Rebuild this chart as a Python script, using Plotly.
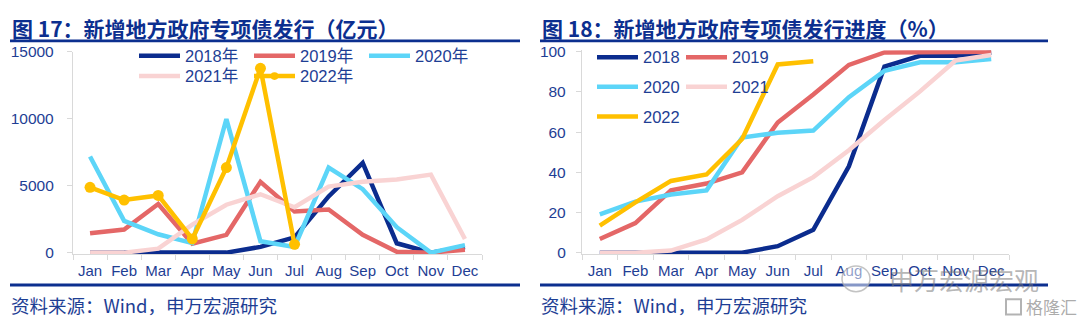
import plotly.graph_objects as go

# ---------------- data ----------------
months = ["Jan", "Feb", "Mar", "Apr", "May", "Jun", "Jul", "Aug", "Sep", "Oct", "Nov", "Dec"]

issue_2018 = [0, 0, 0, 0, 0, 430, 1140, 4200, 6700, 700, 0, 420]
issue_2019 = [1450, 1730, 3630, 660, 1330, 5290, 3080, 3220, 1330, 70, 0, 220]
issue_2020 = [7180, 2370, 1370, 710, 9980, 850, 430, 6350, 4740, 1900, 0, 560]
issue_2021 = [0, 0, 300, 2090, 3580, 4360, 3390, 4930, 5290, 5470, 5830, 1020]
issue_2022 = [4880, 3930, 4270, 1020, 6350, 13770, 620]

prog_2018 = [0, 0, 0, 0, 0, 3.2, 11.4, 43, 92.6, 98, 98, 99.5]
prog_2019 = [6.8, 14.7, 31, 34.4, 40, 64.8, 78.7, 93.5, 99.7, 99.7, 99.7, 100]
prog_2020 = [19.1, 25.4, 28.9, 31, 57.3, 59.7, 60.8, 77.4, 90.5, 94.8, 94.8, 96.4]
prog_2021 = [0, 0, 1, 6.6, 16.3, 28.1, 37.6, 51, 66, 80.3, 95.7, 98.4]
prog_2022 = [13.4, 25, 35.7, 38.9, 56.6, 93.7, 95.3]

left_names = ["2018年", "2019年", "2020年", "2021年", "2022年"]
right_names = ["2018", "2019", "2020", "2021", "2022"]
left_ticks = [0, 5000, 10000, 15000]
right_ticks = [0, 20, 40, 60, 80, 100]

title_left = "图 17：新增地方政府专项债发行（亿元）"
title_right = "图 18：新增地方政府专项债发行进度（%）"
source_text = "资料来源：Wind，申万宏源研究"

# ---------------- styles ----------------
colors = ["#0B2C8E", "#E46767", "#5CD5F8", "#F9D3D3", "#FFC000"]
NAVY = "#0C2F8F"
TXT = "#1E3E94"
GRID = "#D9D9D9"
W, H = 1080, 331
LW = 4.5

def px_x(p):
    return p / W

def px_y(p):
    return 1 - p / H

fig = go.Figure()

left_series = [issue_2018, issue_2019, issue_2020, issue_2021, issue_2022]
right_series = [prog_2018, prog_2019, prog_2020, prog_2021, prog_2022]

for i, (name, ys) in enumerate(zip(left_names, left_series)):
    is22 = i == 4
    fig.add_trace(go.Scatter(
        x=months[:len(ys)], y=ys, name=name, xaxis="x", yaxis="y",
        mode="lines+markers" if is22 else "lines",
        line=dict(color=colors[i], width=LW),
        marker=dict(size=11, color=colors[i]) if is22 else None,
        showlegend=False, cliponaxis=False,
    ))

for i, (name, ys) in enumerate(zip(right_names, right_series)):
    fig.add_trace(go.Scatter(
        x=months[:len(ys)], y=ys, name=name, xaxis="x2", yaxis="y2",
        mode="lines", line=dict(color=colors[i], width=LW),
        showlegend=False,
    ))

axis_common = dict(showgrid=False, zeroline=False, showline=True, linecolor=GRID,
                   linewidth=1.3, ticks="outside", ticklen=5, tickcolor=GRID,
                   tickwidth=1.3, fixedrange=True)
xfont = dict(family="Liberation Sans, Arial, sans-serif", size=15, color=TXT)
yfont = dict(family="Liberation Sans, Arial, sans-serif", size=15.5, color=TXT)

fig.update_layout(
    width=W, height=H, autosize=False,
    margin=dict(l=0, r=0, t=0, b=0),
    paper_bgcolor="white", plot_bgcolor="white",
    showlegend=False,
    xaxis=dict(domain=[px_x(73), px_x(482)], anchor="y", type="category",
               categoryorder="array", categoryarray=months, range=[-0.5, 11.5],
               tickson="boundaries", tickangle=0, tickfont=xfont, ticklabelstandoff=3,
               **axis_common),
    yaxis=dict(domain=[px_y(257.55), px_y(45)], anchor="x", range=[-110, 15000],
               tickvals=left_ticks, ticktext=[str(v) for v in left_ticks],
               tickfont=yfont, ticklabelstandoff=10, **axis_common),
    xaxis2=dict(domain=[px_x(582), px_x(1009)], anchor="y2", type="category",
                categoryorder="array", categoryarray=months, range=[-0.5, 11.5],
                tickson="boundaries", tickangle=0, tickfont=xfont, ticklabelstandoff=3,
                **axis_common),
    yaxis2=dict(domain=[px_y(257.48), px_y(43.31)], anchor="x2", range=[-0.7, 100.8],
                tickvals=right_ticks, ticktext=[str(v) for v in right_ticks],
                tickfont=yfont, ticklabelstandoff=7, **axis_common),
)

shapes = []
annotations = []

for x0, x1, title in [(10, 520, title_left), (540, 1048, title_right)]:
    annotations.append(dict(x=px_x(x0), y=px_y(19.5), xref="paper", yref="paper",
                            xanchor="left", yanchor="middle", showarrow=False,
                            text=title,
                            font=dict(family="Noto Sans CJK SC", size=21, color=NAVY,
                                      weight="bold")))
    for yy in (33.5, 290):
        shapes.append(dict(type="line", xref="paper", yref="paper",
                           x0=px_x(x0), x1=px_x(x1), y0=px_y(yy), y1=px_y(yy),
                           line=dict(color=NAVY, width=2.8)))
    annotations.append(dict(x=px_x(x0 - 1), y=px_y(311), xref="paper", yref="paper",
                            xanchor="left", yanchor="middle", showarrow=False,
                            text=source_text,
                            font=dict(family="Noto Sans CJK SC", size=18.5, color=TXT)))

left_leg_pos = [(139, 49), (254, 49), (369, 49), (139, 70.5), (254, 70.5)]
right_leg_pos = [(597, 50.7), (686, 50.7), (597, 81.7), (686, 81.7), (597, 113)]
LEN = 41
legend_font = dict(family="Liberation Sans, Noto Sans CJK SC, sans-serif", size=16.5, color=TXT)

for names, pos in [(left_names, left_leg_pos), (right_names, right_leg_pos)]:
    for i, (name, (lx, ly)) in enumerate(zip(names, pos)):
        shapes.append(dict(type="line", xref="paper", yref="paper",
                           x0=px_x(lx), x1=px_x(lx + LEN), y0=px_y(ly), y1=px_y(ly),
                           line=dict(color=colors[i], width=LW)))
        if names is left_names and i == 4:
            cx = lx + LEN / 2
            shapes.append(dict(type="circle", xref="paper", yref="paper",
                               x0=px_x(cx - 4), x1=px_x(cx + 4),
                               y0=px_y(ly + 4), y1=px_y(ly - 4),
                               fillcolor=colors[i], line=dict(color=colors[i], width=0)))
        annotations.append(dict(x=px_x(lx + LEN + 3), y=px_y(ly), xref="paper", yref="paper",
                                xanchor="left", yanchor="middle", showarrow=False,
                                text=name, font=legend_font))

# watermarks
annotations.append(dict(x=px_x(964), y=px_y(284), xref="paper", yref="paper",
                        xanchor="center", yanchor="middle", showarrow=False,
                        text="申万宏源宏观",
                        font=dict(family="Noto Sans CJK SC", size=25,
                                  color="rgba(120,120,120,0.55)")))
shapes.append(dict(type="circle", xref="paper", yref="paper",
                   x0=px_x(842), x1=px_x(870), y0=px_y(297), y1=px_y(270),
                   line=dict(color="rgba(170,170,170,0.7)", width=1.5),
                   fillcolor="rgba(255,255,255,0.5)"))
annotations.append(dict(x=px_x(1051), y=px_y(313), xref="paper", yref="paper",
                        xanchor="center", yanchor="middle", showarrow=False,
                        text="格隆汇",
                        font=dict(family="Noto Sans CJK SC", size=17,
                                  color="rgba(150,150,150,0.8)")))
shapes.append(dict(type="rect", xref="paper", yref="paper",
                   x0=px_x(1006), x1=px_x(1021), y0=px_y(321), y1=px_y(305),
                   line=dict(color="rgba(160,160,160,0.8)", width=2)))

fig.update_layout(shapes=shapes, annotations=annotations)

fig.write_html("out.html")
